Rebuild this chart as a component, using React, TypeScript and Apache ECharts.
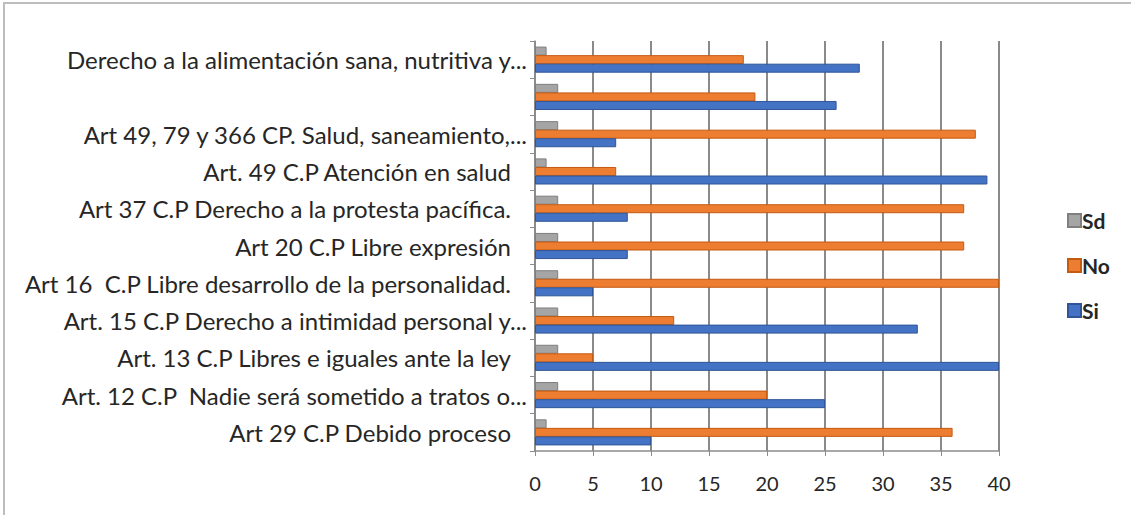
import React, { useEffect, useRef } from "react";
import * as echarts from "echarts";

// Categories listed bottom-to-top (as drawn on the y axis)
const categories: string[] = [
  "Art 29 C.P Debido proceso",
  "Art. 12 C.P  Nadie será sometido a tratos o...",
  "Art. 13 C.P Libres e iguales ante la ley",
  "Art. 15 C.P Derecho a intimidad personal y...",
  "Art 16  C.P Libre desarrollo de la personalidad.",
  "Art 20 C.P Libre expresión",
  "Art 37 C.P Derecho a la protesta pacífica.",
  "Art. 49 C.P Atención en salud",
  "Art 49, 79 y 366 CP. Salud, saneamiento,...",
  "",
  "Derecho a la alimentación sana, nutritiva y...",
];

const siValues: number[] = [10, 25, 40, 33, 5, 8, 8, 39, 7, 26, 28];
const noValues: number[] = [36, 20, 5, 12, 40, 37, 37, 7, 38, 19, 18];
const sdValues: number[] = [1, 2, 2, 2, 2, 2, 2, 1, 2, 2, 1];

const xTicks: number[] = [0, 5, 10, 15, 20, 25, 30, 35, 40];

export default function App() {
  const ref = useRef<HTMLDivElement>(null);

  useEffect(() => {
    if (!ref.current) return;
    const chart = echarts.init(ref.current, null, { renderer: "svg" });
    const font = "Lato, 'Liberation Sans', sans-serif";
    // Labels that are not truncated carry a trailing space in the original
    const yData = categories.map((c) =>
      c === "" || c.endsWith("...")
        ? c
        : { value: c, textStyle: { padding: [8, 16, 0, 0] } }
    );
    chart.setOption({
      animation: false,
      backgroundColor: "#ffffff",
      textStyle: { fontFamily: font },
      grid: { left: 535, right: 132, top: 41, bottom: 64, containLabel: false },
      legend: {
        orient: "vertical",
        left: 1062,
        top: 205,
        icon: "rect",
        itemWidth: 13,
        itemHeight: 13,
        itemGap: 24,
        data: ["Sd", "No", "Si"],
        textStyle: { fontSize: 21, color: "#262626", fontFamily: font, fontWeight: "bold", padding: [0, 0, 0, -4] },
      },
      xAxis: {
        type: "value",
        min: xTicks[0],
        max: xTicks[xTicks.length - 1],
        interval: 5,
        axisLine: { show: true, lineStyle: { color: "#8c8c8c", width: 1.5 } },
        axisTick: { show: true, length: 5, lineStyle: { color: "#8c8c8c" } },
        axisLabel: { fontSize: 20, color: "#262626", margin: 22, fontFamily: font },
        splitLine: { show: true, lineStyle: { color: "#8a8a8a", width: 2 } },
      },
      yAxis: {
        type: "category",
        data: yData,
        axisLine: { show: true, lineStyle: { color: "#8c8c8c", width: 1.5 } },
        axisTick: { show: true, length: 5, lineStyle: { color: "#8c8c8c" } },
        axisLabel: { fontSize: 24, color: "#262626", margin: 8, fontFamily: font, padding: [8, 0, 0, 0] },
      },
      series: [
        {
          name: "Sd",
          type: "bar",
          data: sdValues,
          barWidth: 9,
          barGap: "-5%",
          itemStyle: { color: "#A5A5A5", borderColor: "#7F7F7F", borderWidth: 1 },
        },
        {
          name: "No",
          type: "bar",
          data: noValues,
          barWidth: 9,
          barGap: "-5%",
          itemStyle: { color: "#ED7D31", borderColor: "#C55A11", borderWidth: 1 },
        },
        {
          name: "Si",
          type: "bar",
          data: siValues,
          barWidth: 9,
          barGap: "-5%",
          itemStyle: { color: "#4472C4", borderColor: "#2F5597", borderWidth: 1 },
        },
      ],
      graphic: [
        { type: "line", shape: { x1: 3, y1: 3, x2: 1131, y2: 3 }, style: { stroke: "#bdbdbd", lineWidth: 2 } },
        { type: "line", shape: { x1: 4, y1: 3, x2: 4, y2: 515 }, style: { stroke: "#bdbdbd", lineWidth: 2 } },
      ],
    });
    return () => chart.dispose();
  }, []);

  return (
    <div
      ref={ref}
      style={{ position: "fixed", left: 0, top: 0, width: 1131, height: 515 }}
    />
  );
}
